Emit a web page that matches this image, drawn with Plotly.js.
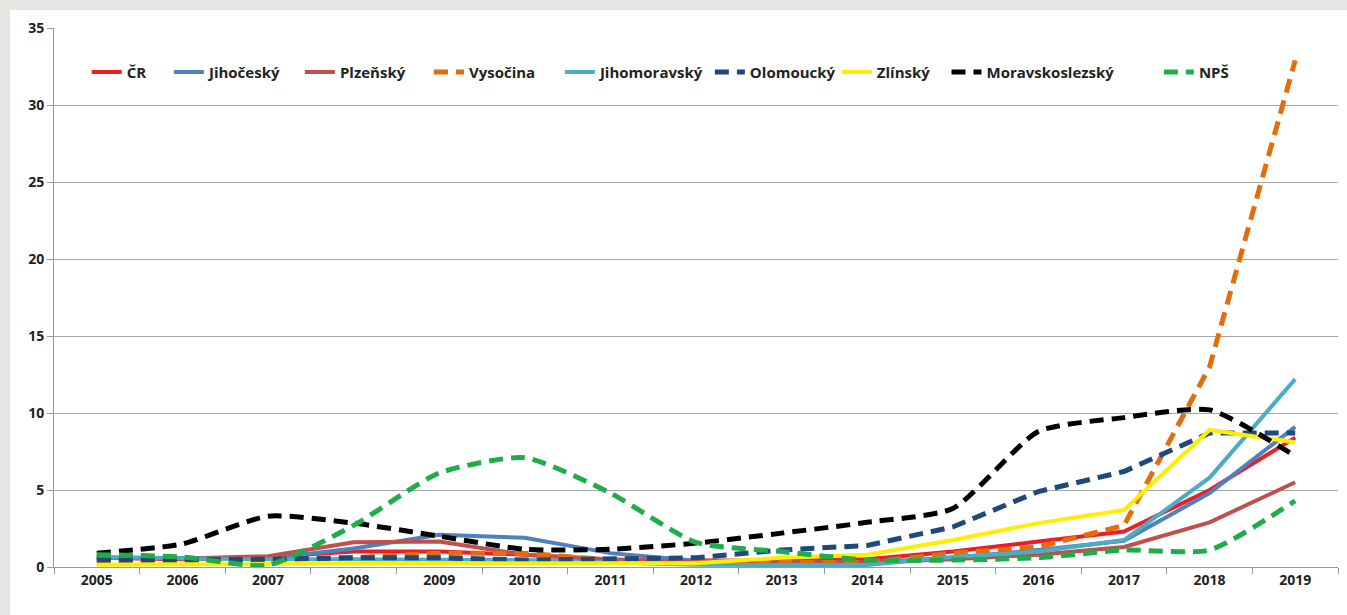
<!DOCTYPE html>
<html>
<head>
<meta charset="utf-8">
<script src="https://cdn.plot.ly/plotly-3.0.1.min.js"></script>
<style>
  html, body { margin: 0; padding: 0; background: #e7e5e2; width: 1347px; height: 615px; overflow: hidden; }
  #chart { position: absolute; left: 10px; top: 10px; width: 1337px; height: 605px; }
</style>
</head>
<body>
<div id="chart"></div>
<script>
const years = ['2005','2006','2007','2008','2009','2010','2011','2012','2013','2014','2015','2016','2017','2018','2019'];

const cr             = [0.6, 0.5, 0.65, 1.0, 1.0, 0.8, 0.45, 0.4, 0.4, 0.5, 1.0, 1.65, 2.3, 5.0, 8.4];
const jihocesky      = [0.6, 0.55, 0.55, 1.2, 2.1, 1.9, 0.9, 0.4, 0.3, 0.3, 0.6, 1.1, 1.7, 4.8, 9.1];
const plzensky       = [0.6, 0.55, 0.7, 1.6, 1.65, 0.8, 0.5, 0.3, 0.3, 0.3, 0.5, 0.8, 1.3, 2.9, 5.5];
const vysocina       = [0.3, 0.4, 0.5, 0.6, 0.9, 0.9, 0.45, 0.3, 0.3, 0.3, 0.9, 1.3, 2.7, 13.0, 32.9];
const jihomoravsky   = [0.65, 0.55, 0.5, 0.5, 0.5, 0.45, 0.3, 0.15, 0.13, 0.13, 0.65, 1.0, 1.75, 5.8, 12.2];
const olomoucky      = [0.45, 0.45, 0.5, 0.6, 0.6, 0.45, 0.5, 0.6, 1.1, 1.4, 2.6, 4.9, 6.2, 8.7, 8.7];
const zlinsky        = [0.15, 0.15, 0.2, 0.25, 0.25, 0.2, 0.2, 0.25, 0.6, 0.8, 1.75, 2.85, 3.7, 8.9, 8.1];
const moravskoslezsky= [0.9, 1.5, 3.3, 2.85, 2.0, 1.15, 1.15, 1.55, 2.2, 2.9, 3.8, 8.8, 9.7, 10.2, 7.2];
const nps            = [0.8, 0.65, 0.13, 2.7, 6.1, 7.1, 4.8, 1.6, 1.0, 0.45, 0.45, 0.6, 1.1, 1.1, 4.3];

const names  = ['ČR','Jihočeský','Plzeňský','Vysočina','Jihomoravský','Olomoucký','Zlínský','Moravskoslezský','NPŠ'];
const series = [cr, jihocesky, plzensky, vysocina, jihomoravsky, olomoucky, zlinsky, moravskoslezsky, nps];
const colors = ['#ee1c25','#4f81bd','#c0504d','#e46c0a','#4bacc6','#1f497d','#ffee00','#000000','#1fad4b'];
const dashed = [false,false,false,true,false,true,false,true,true];
const smooth = [false,false,false,false,false,false,false,true,true];

// legend entry positions (paper fraction of plot width)
const legendX = [0.0255, 0.0895, 0.1915, 0.2920, 0.3940, 0.5108, 0.6097, 0.6951, 0.8605];

const legendIds = names.map((_, i) => i === 0 ? 'legend' : 'legend' + (i + 1));

const traces = series.map((s, i) => ({
  x: years, y: s, name: names[i], type: 'scatter', mode: 'lines',
  legend: legendIds[i],
  line: {
    color: colors[i],
    width: dashed[i] ? 5 : 4,
    dash: dashed[i] ? '14px,8px' : 'solid',
    shape: smooth[i] ? 'spline' : 'linear',
    smoothing: 0.6
  }
}));

const tickFont = {family: 'Open Sans, Arial, sans-serif', size: 14, color: '#222', weight: 'bold'};
const legFont = {family: 'Open Sans, Arial, sans-serif', size: 15, color: '#222', weight: 'bold'};

const layout = {
  width: 1337, height: 605,
  paper_bgcolor: '#ffffff', plot_bgcolor: '#ffffff',
  margin: {l: 44, r: 9, t: 18, b: 48},
  showlegend: true,
  xaxis: {
    type: 'category', tickson: 'boundaries', ticks: 'outside', ticklen: 6, tickcolor: '#999',
    showline: true, linecolor: '#999', linewidth: 1, showgrid: false,
    tickfont: tickFont, fixedrange: true, range: [-0.5, 14.5]
  },
  yaxis: {
    range: [0, 35], dtick: 5, ticks: 'outside', ticklen: 6, tickcolor: '#999',
    showline: true, linecolor: '#999', linewidth: 1,
    showgrid: true, gridcolor: '#a6a6a6', gridwidth: 1, zeroline: false,
    tickfont: tickFont, fixedrange: true
  }
};

legendIds.forEach((id, i) => {
  layout[id] = {
    orientation: 'h', x: legendX[i], y: 0.918, xanchor: 'left', yanchor: 'middle',
    font: legFont, bgcolor: 'rgba(0,0,0,0)', itemwidth: 30
  };
});

Plotly.newPlot('chart', traces, layout, {displayModeBar: false, staticPlot: true});
</script>
</body>
</html>
